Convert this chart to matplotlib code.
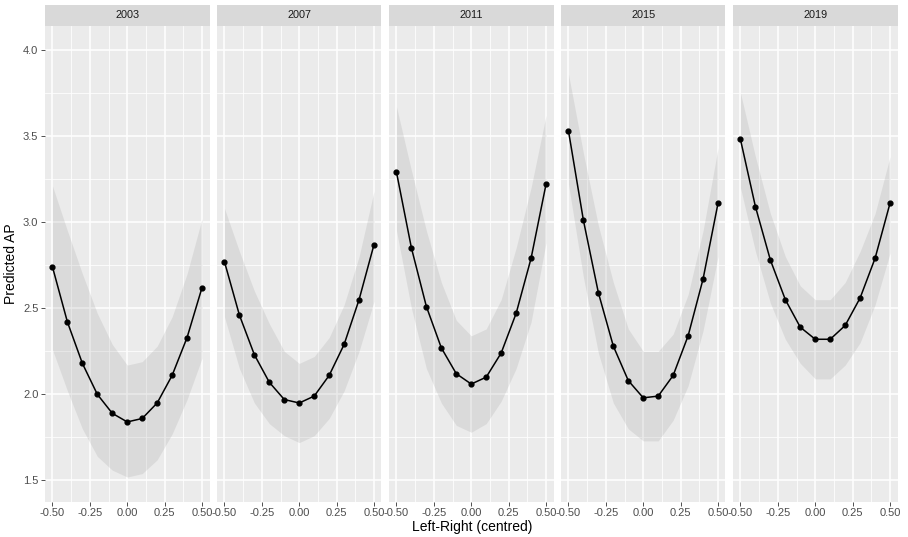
import numpy as np
import matplotlib.pyplot as plt

plt.rcParams['font.family'] = ['Liberation Sans', 'DejaVu Sans']

years = ['2003', '2007', '2011', '2015', '2019']
lr = [-0.5, -0.4, -0.3, -0.2, -0.1, 0.0, 0.1, 0.2, 0.3, 0.4, 0.5]

pred = {
    '2003': [2.74, 2.42, 2.18, 2.00, 1.89, 1.84, 1.86, 1.95, 2.11, 2.33, 2.62],
    '2007': [2.77, 2.46, 2.23, 2.07, 1.97, 1.95, 1.99, 2.11, 2.29, 2.55, 2.87],
    '2011': [3.29, 2.85, 2.51, 2.27, 2.12, 2.06, 2.10, 2.24, 2.47, 2.79, 3.22],
    '2015': [3.53, 3.01, 2.59, 2.28, 2.08, 1.98, 1.99, 2.11, 2.34, 2.67, 3.11],
    '2019': [3.48, 3.09, 2.78, 2.55, 2.39, 2.32, 2.32, 2.40, 2.56, 2.79, 3.11],
}
upper = {
    '2003': [3.21, 2.95, 2.70, 2.47, 2.29, 2.17, 2.19, 2.28, 2.45, 2.70, 3.02],
    '2007': [3.08, 2.83, 2.60, 2.41, 2.25, 2.18, 2.22, 2.33, 2.52, 2.80, 3.18],
    '2011': [3.67, 3.30, 2.95, 2.65, 2.43, 2.34, 2.38, 2.55, 2.85, 3.20, 3.62],
    '2015': [3.86, 3.40, 2.98, 2.65, 2.38, 2.25, 2.25, 2.35, 2.58, 2.95, 3.43],
    '2019': [3.75, 3.38, 3.05, 2.80, 2.63, 2.55, 2.55, 2.65, 2.83, 3.05, 3.38],
}
lower = {
    '2003': [2.26, 2.02, 1.80, 1.64, 1.56, 1.52, 1.54, 1.62, 1.77, 1.97, 2.21],
    '2007': [2.45, 2.15, 1.95, 1.83, 1.76, 1.72, 1.76, 1.86, 2.02, 2.25, 2.54],
    '2011': [2.95, 2.50, 2.15, 1.95, 1.82, 1.78, 1.83, 1.96, 2.15, 2.42, 2.88],
    '2015': [3.22, 2.68, 2.24, 1.95, 1.80, 1.73, 1.73, 1.85, 2.05, 2.37, 2.80],
    '2019': [3.20, 2.83, 2.53, 2.32, 2.18, 2.09, 2.09, 2.17, 2.30, 2.52, 2.82],
}

xticks = [-0.5, -0.25, 0.0, 0.25, 0.5]
xticklabels = ['-0.50', '-0.25', '0.00', '0.25', '0.50']
yticks = [1.5, 2.0, 2.5, 3.0, 3.5, 4.0]

W, H = 908, 537
fig = plt.figure(figsize=(W / 100, H / 100), dpi=100)

# panel geometry in pixels
left0, pw, gap = 45, 164.5, 7.5
top, bottom = 26, 501.5
strip_top = 5

for i, yr in enumerate(years):
    x0 = left0 + i * (pw + gap)
    ax = fig.add_axes([x0 / W, (H - bottom) / H, pw / W, (bottom - top) / H])
    ax.set_facecolor('#EBEBEB')
    ax.set_xlim(-0.55, 0.55)
    ax.set_ylim(1.378, 4.139)
    ax.set_xticks(xticks)
    ax.set_xticks([-0.375, -0.125, 0.125, 0.375], minor=True)
    ax.set_yticks(yticks)
    ax.set_yticks([1.75, 2.25, 2.75, 3.25, 3.75], minor=True)
    ax.grid(which='major', color='white', lw=1.1)
    ax.grid(which='minor', color='white', lw=0.55)
    ax.set_axisbelow(True)
    for s in ax.spines.values():
        s.set_visible(False)
    ax.tick_params(which='major', length=2.75, width=0.6, color='#333333',
                   labelsize=8, labelcolor='#4D4D4D', pad=2)
    ax.tick_params(which='minor', length=0)
    ax.set_xticklabels(xticklabels)
    if i == 0:
        ax.set_yticklabels([f'{v:.1f}' for v in yticks])
    else:
        ax.tick_params(axis='y', which='major', length=0, labelleft=False)

    ax.fill_between(lr, lower[yr], upper[yr], color='#999999', alpha=0.2, lw=0)
    ax.plot(lr, pred[yr], color='black', lw=1.1)
    ax.scatter(lr, pred[yr], color='black', s=12, zorder=3)

    sax = fig.add_axes([x0 / W, (H - top) / H, pw / W, (top - strip_top) / H])
    sax.set_facecolor('#D9D9D9')
    sax.set_xticks([])
    sax.set_yticks([])
    for s in sax.spines.values():
        s.set_visible(False)
    sax.text(0.5, 0.5, yr, ha='center', va='center', fontsize=7.8,
             color='#1A1A1A', transform=sax.transAxes)

fig.text(472 / W, 1 - 527 / H, 'Left-Right (centred)',
         ha='center', va='center', fontsize=10, color='black')
fig.text(11 / W, 1 - ((top + bottom) / 2) / H, 'Predicted AP', rotation=90,
         ha='center', va='center', fontsize=10, color='black')

fig.savefig('out.png', dpi=100)
